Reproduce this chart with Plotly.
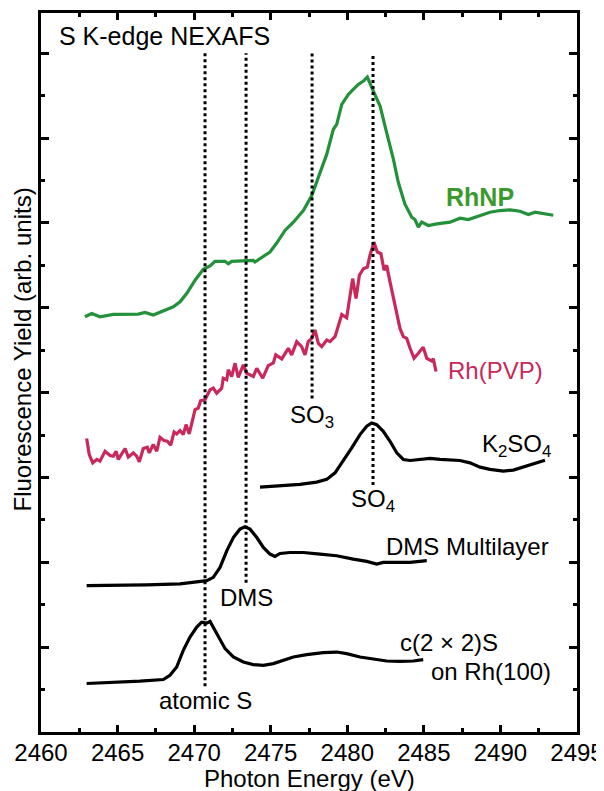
import plotly.graph_objects as go

# ---------------- data ----------------
rhnp_e = [2462.87, 2463.31, 2463.85, 2464.72, 2466.35, 2466.79, 2467.33, 2467.99, 2468.64, 2469.08,
          2469.51, 2470.06, 2470.60, 2471.04, 2471.36, 2472.02, 2472.23, 2472.45, 2473.43, 2473.86,
          2473.97, 2474.52, 2474.95, 2475.39, 2475.93, 2476.48, 2477.13, 2477.68, 2478.22, 2478.66,
          2479.09, 2479.31, 2479.64, 2480.07, 2480.39, 2480.72, 2481.05, 2481.31, 2481.70, 2482.14,
          2482.57, 2483.01, 2483.33, 2483.76, 2484.21, 2484.42, 2484.64, 2484.86, 2485.29, 2485.84,
          2486.71, 2487.36, 2487.90, 2488.67, 2489.32, 2489.97, 2490.63, 2491.28, 2491.82, 2492.26,
          2492.80, 2493.45]
rhnp_y = [9.789, 9.866, 9.789, 9.843, 9.852, 9.890, 9.829, 9.930, 10.023, 10.141,
          10.336, 10.650, 10.908, 10.986, 11.096, 11.096, 11.040, 11.096, 11.120, 11.120,
          11.080, 11.221, 11.315, 11.526, 11.824, 12.019, 12.293, 12.646, 13.192, 13.622,
          14.209, 14.326, 14.796, 15.031, 15.148, 15.265, 15.345, 15.439, 15.110, 14.758,
          14.131, 13.505, 12.958, 12.450, 12.136, 12.082, 11.901, 12.019, 11.941, 11.979,
          12.019, 12.113, 12.082, 12.176, 12.254, 12.293, 12.308, 12.277, 12.200, 12.254,
          12.214, 12.183]

rhpvp_e = [2462.98, 2463.15, 2463.38, 2463.64, 2463.85, 2464.18, 2464.51, 2464.72, 2464.90, 2465.05,
           2465.49, 2465.70, 2466.03, 2466.25, 2466.42, 2466.68, 2466.94, 2467.07, 2467.33, 2467.56,
           2467.77, 2468.03, 2468.25, 2468.47, 2468.69, 2468.86, 2469.08, 2469.29, 2469.47, 2469.68,
           2470.06, 2470.27, 2470.43, 2470.71, 2471.04, 2471.25, 2471.47, 2471.80, 2471.90, 2472.13,
           2472.23, 2472.45, 2472.67, 2472.88, 2473.21, 2473.43, 2473.65, 2473.86, 2474.09, 2474.48,
           2474.84, 2475.17, 2475.33, 2475.56, 2475.72, 2476.15, 2476.37, 2476.70, 2477.02, 2477.24,
           2477.45, 2477.68, 2477.89, 2478.11, 2478.33, 2478.66, 2478.87, 2479.20, 2479.41, 2479.64,
           2479.96, 2480.18, 2480.35, 2480.57, 2480.79, 2481.05, 2481.31, 2481.48, 2481.74, 2481.96,
           2482.20, 2482.40, 2482.57, 2482.79, 2483.12, 2483.44, 2483.66, 2483.88, 2484.10, 2484.36,
           2484.64, 2484.96, 2485.19, 2485.51, 2485.62, 2485.79]
rhpvp_y = [6.918, 6.542, 6.345, 6.425, 6.385, 6.620, 6.519, 6.502, 6.620, 6.425,
           6.683, 6.479, 6.580, 6.502, 6.369, 6.683, 6.714, 6.580, 6.777, 6.620,
           6.948, 6.871, 6.854, 6.761, 7.073, 7.026, 7.106, 7.012, 7.246, 7.026,
           7.599, 7.636, 7.810, 7.833, 8.068, 8.106, 7.988, 8.106, 8.340, 8.303,
           8.538, 8.380, 8.693, 8.357, 8.655, 8.458, 8.420, 8.380, 8.575, 8.340,
           8.638, 8.700, 8.890, 8.826, 8.796, 9.045, 8.890, 9.202, 9.085, 8.890,
           9.202, 9.279, 9.477, 9.162, 9.085, 9.242, 9.202, 9.319, 9.594, 9.843,
           9.765, 10.298, 10.688, 10.218, 10.768, 10.923, 10.962, 11.237, 11.549, 11.315,
           11.275, 10.885, 11.002, 10.610, 10.063, 9.514, 9.319, 9.279, 9.045, 8.810,
           8.927, 9.073, 8.810, 8.749, 8.796, 8.498]

k2so4_e = [2474.30, 2475.61, 2476.91, 2478.00, 2478.66, 2479.20, 2479.74, 2480.29, 2480.83, 2481.27,
           2481.59, 2481.92, 2482.35, 2482.79, 2483.23, 2483.66, 2484.10, 2484.75, 2485.40, 2486.06,
           2486.71, 2487.36, 2488.01, 2488.67, 2489.32, 2490.19, 2490.84, 2491.49, 2492.15, 2492.91]
k2so4_y = [5.775, 5.798, 5.838, 5.892, 5.955, 6.110, 6.385, 6.697, 7.012, 7.207,
           7.284, 7.246, 7.089, 6.854, 6.580, 6.425, 6.401, 6.425, 6.448, 6.425,
           6.408, 6.401, 6.345, 6.244, 6.190, 6.150, 6.174, 6.244, 6.331, 6.408]

dms_e = [2462.98, 2464.72, 2466.90, 2469.08, 2470.17, 2470.82, 2471.25, 2471.69, 2472.13, 2472.56,
         2472.99, 2473.32, 2473.65, 2474.09, 2474.52, 2474.95, 2475.28, 2475.61, 2476.26, 2477.13,
         2478.22, 2479.31, 2480.39, 2481.27, 2481.92, 2482.35, 2483.01, 2484.10, 2485.19]
dms_y = [3.451, 3.451, 3.467, 3.491, 3.528, 3.568, 3.646, 3.880, 4.272, 4.585,
         4.782, 4.836, 4.782, 4.585, 4.350, 4.195, 4.138, 4.209, 4.232, 4.232,
         4.195, 4.155, 4.077, 4.021, 3.960, 3.998, 3.998, 3.998, 4.038]

c2x2_e = [2462.98, 2464.72, 2466.46, 2467.99, 2468.42, 2468.86, 2469.29, 2469.73, 2470.17, 2470.49,
          2470.82, 2471.04, 2471.25, 2471.58, 2472.02, 2472.56, 2473.21, 2473.86, 2474.52, 2475.17,
          2475.82, 2476.48, 2477.35, 2478.43, 2479.31, 2479.96, 2480.83, 2481.70, 2482.57, 2483.44,
          2484.31, 2484.96]
c2x2_y = [1.143, 1.167, 1.197, 1.237, 1.338, 1.533, 1.925, 2.237, 2.472, 2.589,
          2.566, 2.606, 2.472, 2.237, 1.965, 1.768, 1.650, 1.589, 1.573, 1.613,
          1.690, 1.768, 1.824, 1.871, 1.885, 1.847, 1.768, 1.714, 1.674, 1.667,
          1.674, 1.707]

# reference energies (dotted lines) and where each dotted line ends
ref_e = [2470.71, 2473.39, 2477.70, 2481.68]
ref_bottom = [1.08, 3.52, 7.86, 5.82]
ref_top = 16.0

# text labels
label_text = ["RhNP", "Rh(PVP)", "SO<sub>3</sub>", "K<sub>2</sub>SO<sub>4</sub>", "SO<sub>4</sub>",
              "DMS Multilayer", "DMS", "c(2 × 2)S", "on Rh(100)", "atomic S"]
label_e = [2488.67, 2489.71, 2477.70, 2491.05, 2481.68, 2487.82, 2473.39, 2486.64, 2489.38, 2470.71]
label_y = [12.61, 8.52, 7.44, 6.76, 5.45, 4.37, 3.18, 2.12, 1.43, 0.75]

x_ticks = [2460, 2465, 2470, 2475, 2480, 2485, 2490, 2495]

GREEN = "#23903a"
RED = "#c8295a"
FONT = "Liberation Sans, Arial, sans-serif"

fig = go.Figure()

curves = [(rhnp_e, rhnp_y, GREEN), (rhpvp_e, rhpvp_y, RED), (k2so4_e, k2so4_y, "black"),
          (dms_e, dms_y, "black"), (c2x2_e, c2x2_y, "black")]
for e, y, c in curves:
    fig.add_trace(go.Scatter(x=e, y=y, mode="lines", line=dict(color=c, width=3.2),
                             showlegend=False, hoverinfo="skip"))

for e, b in zip(ref_e, ref_bottom):
    fig.add_trace(go.Scatter(x=[e, e], y=[b, ref_top], mode="lines",
                             line=dict(color="black", width=3, dash="dot"),
                             showlegend=False, hoverinfo="skip"))

label_colors = [GREEN, RED] + ["black"] * 8
for t, e, y, c in zip(label_text, label_e, label_y, label_colors):
    fnt = dict(family=FONT, size=24, color=c)
    if t == "RhNP":
        fnt = dict(family=FONT, size=25, color="#3b9a2c", weight="bold")
    fig.add_annotation(x=e, y=y, xref="x", yref="y", text=t, showarrow=False,
                       xanchor="center", yanchor="middle", font=fnt)

fig.add_annotation(x=2461.04, y=16.41, xref="x", yref="y", text="S K-edge NEXAFS",
                   showarrow=False, xanchor="left", yanchor="middle",
                   font=dict(family=FONT, size=25, color="black"))

fig.add_annotation(x=-0.0354, y=0.532, xref="paper", yref="paper",
                   text="Fluorescence Yield (arb. units)", textangle=-90, showarrow=False,
                   xanchor="center", yanchor="middle",
                   font=dict(family=FONT, size=24, color="black"))

fig.add_annotation(x=0.5, y=-0.065, xref="paper", yref="paper",
                   text="Photon Energy (eV)", showarrow=False,
                   xanchor="center", yanchor="middle",
                   font=dict(family=FONT, size=24, color="black"))

fig.update_xaxes(range=[2460, 2495], tickmode="array", tickvals=x_ticks,
                 ticktext=[str(v) for v in x_ticks],
                 ticks="inside", ticklen=7, tickwidth=3, tickcolor="black",
                 ticklabelstandoff=-3,
                 minor=dict(dtick=2.5, tick0=2460, ticks="inside", ticklen=4, tickwidth=3, tickcolor="black"),
                 showline=True, linewidth=3, linecolor="black", mirror="ticks",
                 showgrid=False, zeroline=False,
                 tickfont=dict(family=FONT, size=24, color="black"))
fig.update_yaxes(range=[0, 16.95], dtick=2, tick0=0, showticklabels=False,
                 ticks="inside", ticklen=8, tickwidth=3, tickcolor="black",
                 minor=dict(dtick=1, tick0=0, ticks="inside", ticklen=4, tickwidth=3, tickcolor="black"),
                 showline=True, linewidth=3, linecolor="black", mirror="ticks",
                 showgrid=False, zeroline=False)

# the page body has an 8px default margin; shift margins so the plot area lands where the reference has it
fig.update_layout(width=604, height=791, margin=dict(l=33, r=35, t=2, b=67),
                  plot_bgcolor="white", paper_bgcolor="white", showlegend=False)

fig.write_html("out.html")
